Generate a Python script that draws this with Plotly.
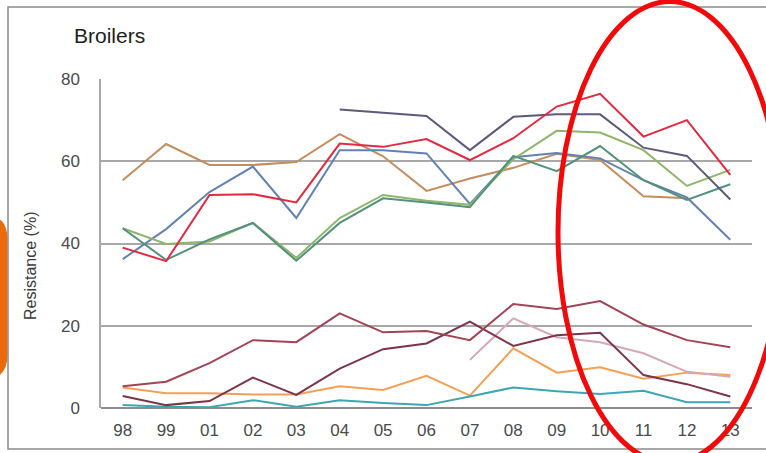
import plotly.graph_objects as go

# Survey years (category axis)
years = ["98", "99", "01", "02", "03", "04", "05", "06", "07", "08", "09", "10", "11", "12", "13"]

# Resistance (%) in broilers, one list per antimicrobial series
series_purple = [None, None, None, None, None, 72.6, 71.8, 71.0, 62.7, 70.8, 71.4, 71.4, 63.3, 61.3, 50.7]
series_red = [39.0, 35.7, 51.8, 52.0, 50.0, 64.3, 63.5, 65.4, 60.3, 65.6, 73.3, 76.4, 66.0, 70.0, 56.7]
series_blue = [36.2, 43.5, 52.5, 58.7, 46.2, 62.7, 62.7, 61.9, 49.6, 61.0, 62.0, 60.7, 55.4, 51.2, 40.9]
series_tan = [55.4, 64.2, 59.1, 59.1, 59.8, 66.6, 61.2, 52.8, 55.8, 58.4, 61.8, 60.3, 51.5, 51.0, None]
series_green = [43.7, 39.9, 40.5, 45.0, 36.5, 46.2, 51.8, 50.4, 49.4, 60.5, 67.4, 67.0, 62.7, 54.0, 57.9]
series_teal_green = [43.7, 36.0, 41.0, 45.0, 35.8, 45.0, 51.0, 50.0, 48.8, 61.3, 57.6, 63.7, 55.4, 50.6, 54.4]
series_maroon = [5.3, 6.4, 10.9, 16.5, 16.0, 23.0, 18.4, 18.7, 16.5, 25.3, 24.1, 26.0, 20.3, 16.5, 14.8]
series_dark_maroon = [2.9, 0.7, 1.7, 7.4, 3.2, 9.6, 14.3, 15.7, 21.0, 15.1, 17.7, 18.3, 8.0, 5.8, 2.8]
series_pink = [None, None, None, None, None, None, None, None, 11.7, 21.8, 17.2, 16.0, 13.3, 8.8, 7.6]
series_orange = [5.0, 3.6, 3.6, 3.3, 3.3, 5.3, 4.4, 7.8, 3.0, 14.5, 8.6, 9.9, 7.1, 8.6, 8.0]
series_teal = [0.7, 0.3, 0.2, 1.9, 0.3, 1.9, 1.2, 0.7, 2.8, 5.0, 4.1, 3.4, 4.2, 1.4, 1.4]

y_ticks = [0, 20, 40, 60, 80]

traces = [
    (series_tan, "#c38d5e"),
    (series_blue, "#6382b4"),
    (series_green, "#8fb56c"),
    (series_teal_green, "#52917a"),
    (series_purple, "#5e5a7c"),
    (series_red, "#e3293f"),
    (series_orange, "#f2a055"),
    (series_pink, "#d6a7b8"),
    (series_teal, "#3ea6b2"),
    (series_dark_maroon, "#7c3448"),
    (series_maroon, "#a04456"),
]

fig = go.Figure()
for values, color in traces:
    fig.add_trace(go.Scatter(
        x=years, y=values, mode="lines",
        line=dict(color=color, width=2),
        connectgaps=False, showlegend=False, hoverinfo="skip",
    ))

W, H = 766, 453
L, R, T, B = 101, 14, 79, 45
PW, PH = W - L - R, H - T - B


def px(x):
    return (x - L) / PW


def py(y):
    return (H - B - y) / PH


shapes = [
    # outer slide frame
    dict(type="rect", xref="paper", yref="paper",
         x0=px(8), x1=px(800), y0=py(449), y1=py(7),
         line=dict(color="#8a8a8a", width=1.5), layer="below"),
    # orange tab on the left edge
    dict(type="path", xref="paper", yref="paper",
         path=(f"M {px(-30)},{py(214)} L {px(-18)},{py(214)} "
               f"Q {px(7.5)},{py(214)} {px(7.5)},{py(239)} "
               f"L {px(7.5)},{py(355)} Q {px(7.5)},{py(380)} {px(-18)},{py(380)} "
               f"L {px(-30)},{py(380)} Z"),
         fillcolor="#ec6a0e", line=dict(width=0), layer="above"),
    # red highlight ellipse around the last years
    dict(type="circle", xref="paper", yref="paper",
         x0=px(558), x1=px(782), y0=py(463), y1=py(1.5),
         line=dict(color="#f20a0a", width=5), layer="above"),
]

fig.update_layout(
    width=W, height=H,
    margin=dict(l=L, r=R, t=T, b=B),
    paper_bgcolor="white", plot_bgcolor="white",
    font=dict(family="Liberation Sans, Arial, sans-serif", color="#4a4a4a"),
    shapes=shapes,
    annotations=[
        dict(text="Broilers", xref="paper", yref="paper",
             x=px(72), y=py(36), xanchor="left", yanchor="middle",
             showarrow=False, font=dict(size=21, color="#1e1e1e")),
        dict(text="Resistance (%)", xref="paper", yref="paper",
             x=px(30), y=py(266), xanchor="center", yanchor="middle",
             textangle=-90, showarrow=False, font=dict(size=16, color="#3a3a3a")),
    ],
)

fig.update_xaxes(
    type="category", categoryorder="array", categoryarray=years,
    range=[-0.5, len(years) - 0.5],
    showgrid=False, zeroline=False,
    showline=False, ticks="",
    tickfont=dict(size=17, color="#4a4a4a"),
    ticklabelstandoff=10,
)
fig.update_yaxes(
    range=[0, 80], tickvals=y_ticks, ticktext=[str(v) for v in y_ticks],
    showgrid=True, gridcolor="#a8a8a8", gridwidth=1.5,
    zeroline=True, zerolinecolor="#8c8c8c", zerolinewidth=1.5,
    showline=True, linecolor="#a8a8a8", linewidth=1.5,
    ticks="", tickfont=dict(size=17, color="#4a4a4a"),
    ticklabelstandoff=16,
)

fig.write_html("out.html")
